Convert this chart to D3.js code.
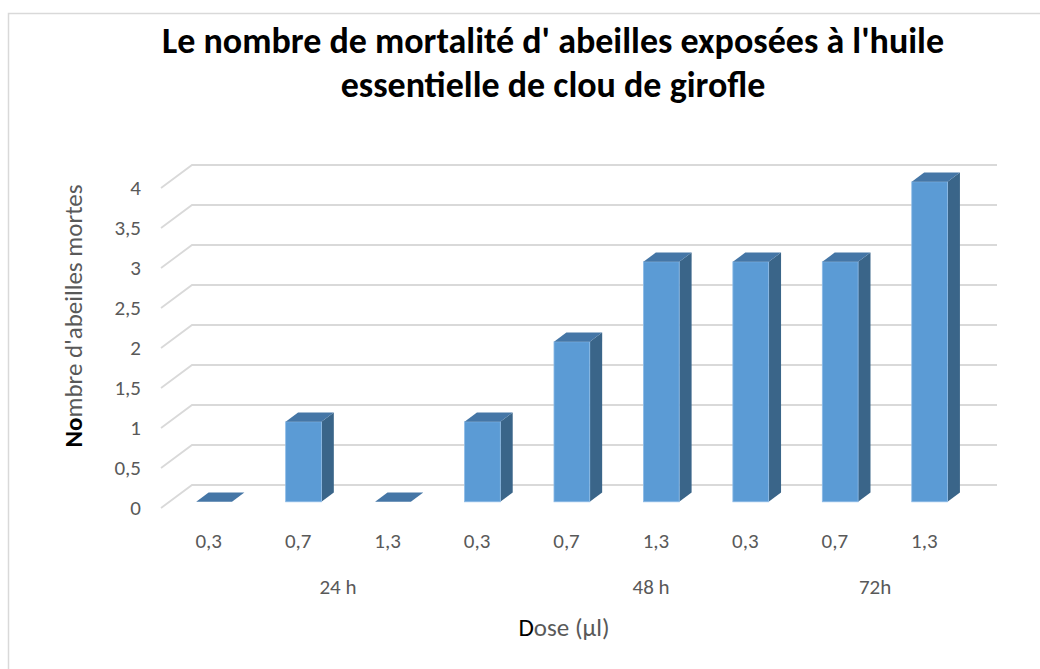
<!DOCTYPE html>
<html>
<head>
<meta charset="utf-8">
<script src="https://cdn.jsdelivr.net/npm/d3@7"></script>
<style>
  body { margin: 0; background: #fff; }
  svg text { font-family: Carlito, Calibri, Lato, sans-serif; }
</style>
</head>
<body>
<svg id="chart"></svg>
<script>
var width = 1040,
    height = 669;

// data
var doses = ["0,3", "0,7", "1,3", "0,3", "0,7", "1,3", "0,3", "0,7", "1,3"];
var mortes = [0, 1, 0, 1, 2, 3, 3, 3, 4];
var groups = ["24 h", "48 h", "72h"];
var yTicks = [0, 0.5, 1, 1.5, 2, 2.5, 3, 3.5, 4];

// where each group label sits, in category units (as in the original sheet)
var groupAt = [1.445, 4.946, 7.45];

var svg = d3.select("#chart")
    .attr("width", width)
    .attr("height", height);

// chart border
svg.append("rect")
    .attr("x", 8.5).attr("y", 13.5)
    .attr("width", 1100).attr("height", 700)
    .style("fill", "#fff")
    .style("stroke", "#d9d9d9")
    .style("stroke-width", 1.5);

// 3d depth of the plot box
var depthX = 31, depthY = -23;

var xScale = d3.scaleBand()
    .domain(d3.range(doses.length))
    .range([161, 997 - depthX])
    .paddingInner(0.6)
    .paddingOuter(0.3);

var yScale = d3.scaleLinear()
    .domain([0, 4])
    .range([508, 188]);

var fmt = function(d) { return String(d).replace(".", ","); };

// gridlines: front diagonal + back wall
var grid = svg.append("g");
yTicks.forEach(function(t) {
    var y = yScale(t);
    grid.append("path")
        .attr("d", "M161," + y + "L" + (161 + depthX) + "," + (y + depthY) + "H997")
        .style("fill", "none")
        .style("stroke", "#d9d9d9")
        .style("stroke-width", 1.8);
});

// y labels
svg.append("g").selectAll("text")
    .data(yTicks)
    .enter().append("text")
    .attr("x", 141)
    .attr("y", function(d) { return yScale(d); })
    .attr("dy", "0.35em")
    .style("text-anchor", "end")
    .style("font-size", "21px")
    .style("fill", "#595959")
    .text(fmt);

// bars
var d0 = 0.27, d1 = 0.67;
var ox = depthX * d0, oy = depthY * d0;
var sx = depthX * (d1 - d0), sy = depthY * (d1 - d0);
var bw = xScale.bandwidth();

var bars = svg.append("g").selectAll("g")
    .data(mortes)
    .enter().append("g");

bars.each(function(v, i) {
    var g = d3.select(this);
    var x0 = xScale(i) + ox,
        x1 = x0 + bw,
        yb = yScale(0) + oy,
        yt = yScale(v) + oy;
    if (v > 0) {
        g.append("path")
            .attr("d", "M" + x1 + "," + yb + "L" + (x1 + sx) + "," + (yb + sy) +
                "L" + (x1 + sx) + "," + (yt + sy) + "L" + x1 + "," + yt + "Z")
            .style("fill", "#3a6589");
        g.append("rect")
            .attr("x", x0).attr("y", yt)
            .attr("width", bw).attr("height", yb - yt)
            .style("fill", "#5b9bd5")
            .style("stroke", "#8dbbe6")
            .style("stroke-width", 0.8);
    }
    g.append("path")
        .attr("d", "M" + x0 + "," + yt + "L" + x1 + "," + yt +
            "L" + (x1 + sx) + "," + (yt + sy) + "L" + (x0 + sx) + "," + (yt + sy) + "Z")
        .style("fill", "#4576a6");
});

// category labels
var labelX = function(i) { return xScale(0) + bw / 2 + 3 + i * xScale.step(); };

svg.append("g").selectAll("text")
    .data(doses)
    .enter().append("text")
    .attr("x", function(d, i) { return labelX(i); })
    .attr("y", 548)
    .style("text-anchor", "middle")
    .style("font-size", "21px")
    .style("fill", "#595959")
    .text(function(d) { return d; });

// group labels
svg.append("g").selectAll("text")
    .data(groups)
    .enter().append("text")
    .attr("x", function(d, i) { return labelX(groupAt[i]); })
    .attr("y", 594)
    .style("text-anchor", "middle")
    .style("font-size", "21px")
    .style("fill", "#595959")
    .text(function(d) { return d; });

// x axis title
var xt = svg.append("text")
    .attr("x", 564)
    .attr("y", 636)
    .style("text-anchor", "middle")
    .style("font-size", "25px")
    .style("fill", "#595959");
xt.append("tspan").style("fill", "#000").text("D");
xt.append("tspan").text("ose (µl)");

// y axis title
var yt = svg.append("text")
    .attr("transform", "translate(82,316) rotate(-90)")
    .style("text-anchor", "middle")
    .style("font-size", "25px")
    .style("fill", "#595959");
yt.append("tspan").style("fill", "#000").style("font-weight", "bold").text("No");
yt.append("tspan").text("mbre d'abeilles mortes");

// title
var title = svg.append("text")
    .style("text-anchor", "middle")
    .style("font-size", "36px")
    .style("font-weight", "bold")
    .style("fill", "#000");
title.append("tspan").attr("x", 553).attr("y", 53)
    .text("Le nombre de mortalité d' abeilles exposées à l'huile");
title.append("tspan").attr("x", 553).attr("y", 97)
    .text("essentielle de clou de girofle");
</script>
</body>
</html>
